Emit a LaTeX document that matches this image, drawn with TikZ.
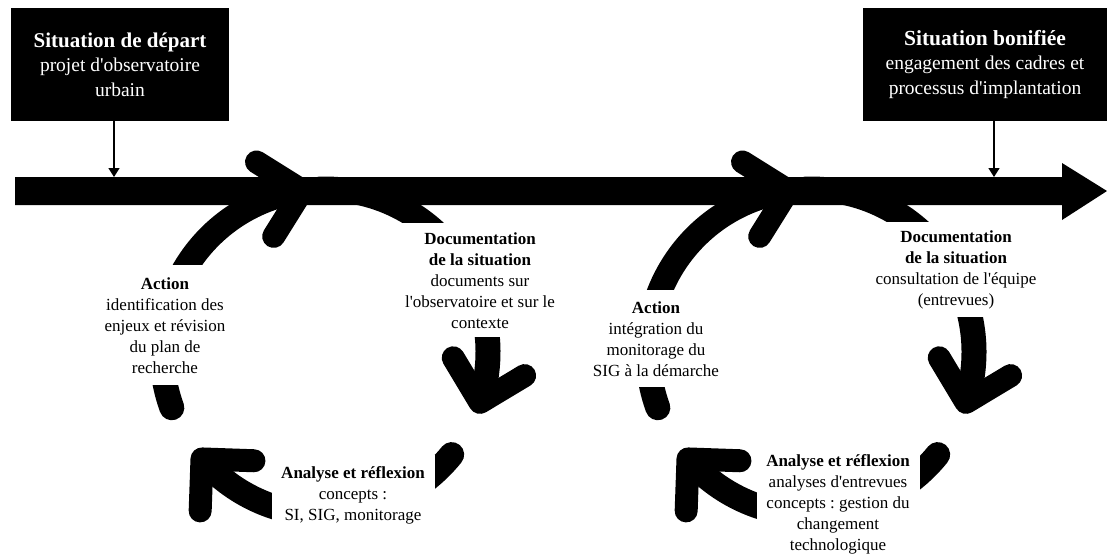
\documentclass[tikz,border=0pt]{standalone}
\usepackage{fontspec}
\setmainfont{Liberation Serif}
\usetikzlibrary{arrows.meta}
\frenchspacing
\newcommand{\mychevron}[3]{\draw[chev] (#1) ++(#2+135:#3) -- (#1) -- ++(#2-135:#3);}
\newcommand{\sq}{\textquotesingle}
\begin{document}
\begin{tikzpicture}[x=1pt,y=-1pt,
  lbl/.style={font=\fontsize{17}{21}\selectfont, align=center, fill=white, inner xsep=6pt, anchor=north},
  sbox/.style={fill=black, text=white, align=center, inner sep=0pt, minimum height=113pt, font=\fontsize{19.5}{24.5}\selectfont},
  arcband/.style={line width=25pt, line cap=round},
  chev/.style={line width=23pt, line cap=round, line join=round},
  tick/.style={line width=1.5pt, -{Triangle[width=11pt,length=9pt]}},
]
\useasboundingbox (0,0) rectangle (1107,554);

% main timeline arrow
\fill (15,177) -- (1062,177) -- (1062,163) -- (1107,191) -- (1062,220) -- (1062,205) -- (15,205) -- cycle;

% cycles
\coordinate (c1) at (325,352);
\coordinate (c2) at (811,352);
\foreach \s in {1,2} {
  \draw[arcband] (c\s) ++(160:163) arc[start angle=160, end angle=258, radius=163];
  \draw[arcband] (c\s) ++(268:163) arc[start angle=268, end angle=374, radius=163];
  \draw[arcband] (c\s) ++(39:163) arc[start angle=39, end angle=135, radius=163];
  \path (c\s) ++(262:163) coordinate (ta\s)
        (c\s) ++(18:163) coordinate (td\s)
        (c\s) ++(139:163) coordinate (tn\s);
  \mychevron{ta\s}{-13}{54}
  \mychevron{td\s}{104}{52}
  \mychevron{tn\s}{227}{52}
}

% labels cycle 1
\node[lbl, inner ysep=12pt] (act1) at (165,265) {\textbf{Action}\\identification des\\enjeux et révision\\du plan de\\recherche};
\node[lbl, inner ysep=9pt] (doc1) at (480,223) {\textbf{Documentation}\\\textbf{de la situation}\\documents sur\\l\sq observatoire et sur le\\contexte};
\node[lbl, inner ysep=11pt, minimum width=163pt] (ana1) at (353,455) {\textbf{Analyse et réflexion}\\concepts :\\SI, SIG, monitorage};

% labels cycle 2
\node[lbl, inner ysep=11pt] (act2) at (656,290) {\textbf{Action}\\intégration du\\monitorage du\\SIG à la démarche};
\node[lbl, inner ysep=8pt] (doc2) at (956,222) {\textbf{Documentation}\\\textbf{de la situation}\\consultation de l\sq équipe\\(entrevues)};
\node[lbl, inner ysep=9pt, minimum width=163pt] (ana2) at (838,445) {\textbf{Analyse et réflexion}\\analyses d\sq entrevues\\concepts : gestion du\\changement\\technologique};

% situation boxes
\node[sbox, minimum width=218pt] (start) at (120,64.5) {{\fontsize{21}{27}\selectfont\bfseries Situation de départ}\\projet d\sq observatoire\\urbain};
\node[sbox, minimum width=244pt] (end) at (985,64.5) {{\fontsize{21.5}{27}\selectfont\bfseries Situation bonifiée}\\engagement des cadres et\\processus d\sq implantation};
\coordinate (a1) at (114,177);
\coordinate (a2) at (994,177);
\draw[tick] (start.south -| a1) -- (a1);
\draw[tick] (end.south -| a2) -- (a2);
\end{tikzpicture}
\end{document}
